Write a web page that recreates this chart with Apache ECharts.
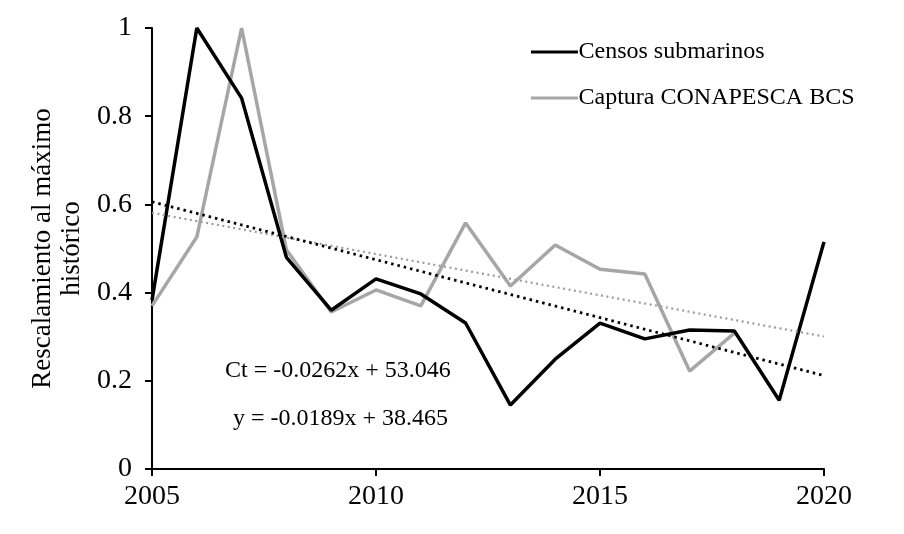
<!DOCTYPE html>
<html>
<head>
<meta charset="utf-8">
<script src="https://cdn.jsdelivr.net/npm/echarts@6/dist/echarts.min.js"></script>
<style>html,body{margin:0;padding:0;background:#fff;}#c{width:904px;height:534px;}</style>
</head>
<body>
<div id="c"></div>
<script>
var years = [2005,2006,2007,2008,2009,2010,2011,2012,2013,2014,2015,2016,2017,2018,2019,2020];
var censos = [0.383,1.0,0.841,0.48,0.36,0.431,0.397,0.331,0.145,0.249,0.331,0.295,0.315,0.313,0.156,0.515];
var captura = [0.37,0.526,1.0,0.497,0.356,0.406,0.37,0.558,0.415,0.508,0.453,0.442,0.222,0.308];
var xTicks = [2005,2010,2015,2020];
var eqCensos = 'Ct = -0.0262x + 53.046';
var eqCaptura = 'y = -0.0189x + 38.465';

function pairs(vals){ return vals.map(function(v,i){ return [years[i], v]; }); }
function trend(vals, x0, x1){
  var n = vals.length, sx=0, sy=0, sxx=0, sxy=0;
  for (var i=0;i<n;i++){ var x=years[i]; sx+=x; sy+=vals[i]; sxx+=x*x; sxy+=x*vals[i]; }
  var b = (n*sxy - sx*sy)/(n*sxx - sx*sx);
  var a = (sy - b*sx)/n;
  return [[x0, a+b*x0],[x1, a+b*x1]];
}

var font = '"Liberation Serif","Times New Roman",serif';
var chart = echarts.init(document.getElementById('c'), null, {renderer:'canvas'});
chart.setOption({
  animation:false,
  backgroundColor:'#fff',
  grid:{left:152, right:80, top:28, bottom:65},
  xAxis:{
    type:'value', min:2005, max:2020, interval:5,
    axisLine:{lineStyle:{color:'#000', width:2}},
    axisTick:{show:true, length:7, lineStyle:{color:'#000', width:2}},
    axisLabel:{color:'#000', fontFamily:font, fontSize:28, margin:14,
      formatter:function(v){ return xTicks.indexOf(v)>=0 ? String(v) : ''; }},
    splitLine:{show:false}
  },
  yAxis:{
    type:'value', min:0, max:1, interval:0.2,
    name:'Rescalamiento al máximo\nhistórico',
    nameLocation:'middle', nameGap:66, nameRotate:90,
    nameTextStyle:{color:'#000', fontFamily:font, fontSize:27, lineHeight:29},
    axisLine:{show:true, lineStyle:{color:'#000', width:2}},
    axisTick:{show:true, length:7, lineStyle:{color:'#000', width:2}},
    axisLabel:{color:'#000', fontFamily:font, fontSize:28, margin:20,
      formatter:function(v){ return String(Math.round(v*10)/10); }},
    splitLine:{show:false}
  },
  legend:{
    orient:'vertical', left:526, top:35,
    data:['Censos submarinos','Captura CONAPESCA BCS'],
    icon:'path://M0,0 L47,0 L47,3 L0,3 Z',
    itemWidth:48, itemHeight:3, itemGap:22,
    textStyle:{color:'#000', fontFamily:font, fontSize:24, lineHeight:24, padding:[0,0,0,-5]}
  },
  series:[
    {name:'Censos submarinos', type:'line', data:pairs(censos), symbol:'none',
     lineStyle:{color:'#000', width:3.5}, itemStyle:{color:'#000'}, z:3},
    {name:'Captura CONAPESCA BCS', type:'line', data:pairs(captura), symbol:'none',
     lineStyle:{color:'#a6a6a6', width:3.5}, itemStyle:{color:'#a6a6a6'}, z:2},
    {name:'trendCensos', type:'line', data:trend(censos,2005,2020), symbol:'none',
     lineStyle:{color:'#000', width:2.8, type:[2.5,4]}, z:5, silent:true},
    {name:'trendCaptura', type:'line', data:trend(captura,2005,2020), symbol:'none',
     lineStyle:{color:'#9c9c9c', width:2.2, type:[2,3.5]}, z:4, silent:true}
  ],
  graphic:[
    {type:'text', left:225, top:359, style:{text:eqCensos, fill:'#000', font:'24px '+font}},
    {type:'text', left:233, top:407, style:{text:eqCaptura, fill:'#000', font:'24px '+font}}
  ]
});
</script>
</body>
</html>
